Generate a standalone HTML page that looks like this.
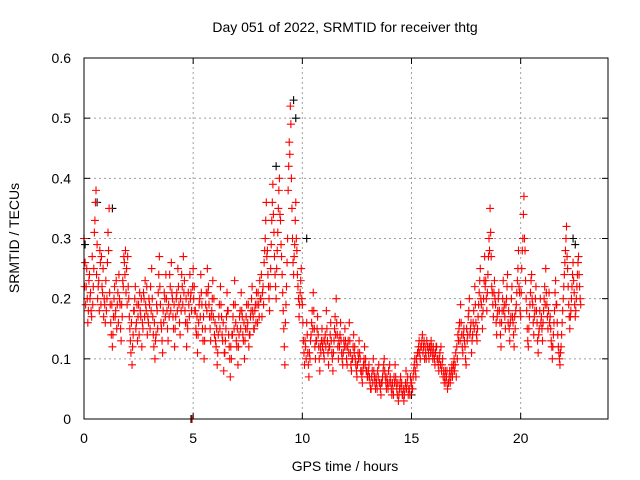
<!DOCTYPE html>
<html><head><meta charset="utf-8"><style>
html,body{margin:0;padding:0;background:#fff;}
svg{display:block;font-family:"Liberation Sans",sans-serif;}
</style></head><body>
<svg id="chart" width="640" height="480" viewBox="0 0 640 480">
<text x="345" y="32" font-size="14" text-anchor="middle">Day 051 of 2022, SRMTID for receiver thtg</text>
<text transform="translate(19,238) rotate(-90)" font-size="14" text-anchor="middle">SRMTID / TECUs</text>
<text x="345" y="471" font-size="14" text-anchor="middle">GPS time / hours</text>
<g id="grid"></g>
<g id="ticks"></g>
<g id="blackPts"></g>
<g id="redPts"></g>
<rect x="84" y="58" width="524" height="361" fill="none" stroke="#000" stroke-width="1"/>
</svg>
<script>
const xTicks=[0,5,10,15,20];
const yTicks=[0,0.1,0.2,0.3,0.4,0.5,0.6];
const yTickLabels=["0","0.1","0.2","0.3","0.4","0.5","0.6"];
const redStart=0, redStep=0.05;
const redValues=[
0.30,0.26,0.22,0.20,0.18,0.24,0.21,0.17,0.19,0.25,0.33,0.38,0.29,0.22,0.18,0.26,0.27,0.21,0.17,0.19,
0.23,0.20,0.31,0.35,0.19,0.14,0.12,0.17,0.22,0.18,0.15,0.21,0.24,0.19,0.13,0.17,0.22,0.26,0.28,0.25,
0.27,0.20,0.15,0.11,0.09,0.14,0.18,0.22,0.16,0.13,0.19,0.21,0.17,0.12,0.15,0.20,0.23,0.18,0.14,0.16,
0.19,0.22,0.25,0.17,0.12,0.10,0.14,0.18,0.21,0.27,0.19,0.15,0.11,0.16,0.20,0.24,0.18,0.13,0.17,0.22,
0.26,0.20,0.15,0.12,0.17,0.21,0.25,0.19,0.14,0.18,0.22,0.27,0.23,0.16,0.12,0.15,0.19,0.24,0.21,0.00,
0.25,0.22,0.18,0.14,0.11,0.16,0.20,0.24,0.19,0.13,0.10,0.15,0.21,0.25,0.22,0.17,0.13,0.18,0.23,0.20,
0.16,0.12,0.09,0.14,0.19,0.22,0.17,0.13,0.08,0.11,0.15,0.21,0.18,0.12,0.07,0.10,0.14,0.19,0.23,0.16,
0.12,0.09,0.14,0.18,0.21,0.17,0.13,0.10,0.15,0.19,0.16,0.12,0.14,0.18,0.22,0.17,0.15,0.19,0.21,0.16,
0.19,0.23,0.20,0.17,0.22,0.26,0.30,0.36,0.28,0.22,0.18,0.25,0.33,0.39,0.31,0.24,0.20,0.28,0.35,0.40,
0.33,0.27,0.21,0.15,0.09,0.19,0.26,0.38,0.46,0.52,0.40,0.30,0.24,0.29,0.36,0.28,0.22,0.17,0.21,0.25,
0.19,0.13,0.09,0.12,0.16,0.11,0.07,0.10,0.14,0.18,0.21,0.15,0.10,0.13,0.17,0.12,0.08,0.11,0.15,0.13,
0.10,0.14,0.18,0.13,0.09,0.12,0.16,0.11,0.08,0.13,0.17,0.20,0.14,0.10,0.12,0.16,0.11,0.09,0.13,0.15,
0.12,0.09,0.13,0.16,0.11,0.08,0.10,0.14,0.12,0.09,0.07,0.11,0.13,0.10,0.08,0.06,0.09,0.12,0.10,0.08,
0.07,0.09,0.06,0.05,0.08,0.10,0.07,0.05,0.06,0.08,0.09,0.06,0.04,0.06,0.08,0.10,0.07,0.05,0.06,0.08,
0.09,0.06,0.04,0.05,0.07,0.09,0.06,0.04,0.03,0.05,0.07,0.06,0.04,0.03,0.05,0.08,0.06,0.04,0.05,0.07,
0.06,0.05,0.08,0.10,0.07,0.09,0.11,0.13,0.10,0.12,0.14,0.12,0.10,0.11,0.13,0.12,0.10,0.12,0.13,0.11,
0.12,0.10,0.11,0.12,0.10,0.08,0.11,0.12,0.09,0.07,0.06,0.08,0.07,0.05,0.06,0.08,0.07,0.09,0.08,0.10,
0.09,0.07,0.10,0.13,0.16,0.19,0.14,0.11,0.15,0.12,0.09,0.13,0.17,0.20,0.15,0.11,0.14,0.18,0.22,0.16,
0.13,0.17,0.21,0.25,0.19,0.15,0.20,0.27,0.23,0.18,0.24,0.30,0.35,0.27,0.21,0.17,0.23,0.19,0.14,0.18,
0.21,0.16,0.12,0.18,0.23,0.19,0.15,0.20,0.24,0.18,0.13,0.17,0.22,0.16,0.12,0.15,0.19,0.23,0.28,0.21,
0.17,0.25,0.30,0.37,0.28,0.20,0.15,0.12,0.17,0.21,0.24,0.19,0.14,0.18,0.22,0.16,0.11,0.15,0.20,0.17,
0.13,0.18,0.22,0.25,0.19,0.15,0.21,0.17,0.13,0.10,0.14,0.18,0.23,0.19,0.14,0.11,0.09,0.12,0.16,0.20,
0.24,0.28,0.32,0.25,0.19,0.15,0.18,0.22,0.26,0.21,0.17,0.20,0.24,0.27,0.22,0.19
];
const red2Start=0.025, red2Step=0.05;
const redValues2=[
0.22,0.19,0.25,0.16,0.23,0.20,0.18,0.27,0.22,0.31,0.36,0.24,0.20,0.23,0.28,0.19,0.22,0.25,0.20,0.16,
0.18,0.26,0.28,0.21,0.16,0.19,0.14,0.20,0.17,0.23,0.19,0.16,0.20,0.15,0.19,0.23,0.27,0.24,0.21,0.19,
0.22,0.17,0.13,0.16,0.12,0.18,0.20,0.15,0.19,0.17,0.14,0.18,0.20,0.16,0.21,0.17,0.19,0.22,0.17,0.20,
0.15,0.18,0.20,0.14,0.16,0.13,0.19,0.15,0.24,0.22,0.16,0.13,0.18,0.21,0.17,0.20,0.15,0.19,0.24,0.18,
0.21,0.17,0.19,0.15,0.20,0.18,0.22,0.16,0.20,0.24,0.19,0.21,0.18,0.20,0.16,0.21,0.17,0.20,0.18,0.22,
0.20,0.18,0.15,0.17,0.14,0.19,0.17,0.21,0.15,0.17,0.13,0.19,0.18,0.21,0.19,0.15,0.17,0.20,0.17,0.14,
0.13,0.15,0.11,0.17,0.15,0.19,0.14,0.16,0.11,0.13,0.17,0.18,0.14,0.10,0.12,0.14,0.17,0.15,0.19,0.13,
0.15,0.12,0.17,0.15,0.18,0.14,0.16,0.13,0.17,0.15,0.19,0.14,0.17,0.20,0.18,0.15,0.18,0.16,0.19,0.21,
0.17,0.20,0.24,0.21,0.19,0.28,0.33,0.27,0.24,0.20,0.22,0.29,0.36,0.34,0.27,0.22,0.25,0.31,0.38,0.34,
0.29,0.24,0.18,0.12,0.16,0.22,0.30,0.42,0.44,0.49,0.35,0.26,0.27,0.33,0.30,0.24,0.20,0.19,0.23,0.20,
0.16,0.11,0.13,0.10,0.14,0.09,0.11,0.13,0.16,0.15,0.18,0.12,0.13,0.15,0.14,0.10,0.12,0.13,0.12,0.11,
0.13,0.12,0.15,0.11,0.12,0.14,0.13,0.10,0.11,0.15,0.14,0.16,0.12,0.13,0.14,0.13,0.10,0.11,0.12,0.13,
0.10,0.12,0.11,0.13,0.09,0.10,0.12,0.11,0.10,0.08,0.09,0.10,0.11,0.08,0.07,0.08,0.10,0.09,0.08,0.07,
0.08,0.07,0.05,0.07,0.06,0.08,0.06,0.07,0.05,0.07,0.06,0.05,0.06,0.07,0.09,0.08,0.06,0.07,0.05,0.06,
0.07,0.05,0.06,0.04,0.06,0.07,0.05,0.06,0.04,0.06,0.05,0.04,0.05,0.04,0.06,0.05,0.07,0.05,0.04,0.06,
0.05,0.07,0.09,0.08,0.10,0.11,0.12,0.11,0.12,0.13,0.11,0.13,0.12,0.10,0.12,0.11,0.12,0.11,0.12,0.10,
0.11,0.09,0.12,0.10,0.09,0.10,0.09,0.08,0.10,0.08,0.07,0.06,0.08,0.06,0.07,0.06,0.08,0.07,0.09,0.08,
0.11,0.12,0.14,0.15,0.13,0.16,0.12,0.14,0.13,0.10,0.15,0.14,0.18,0.14,0.16,0.13,0.16,0.15,0.19,0.14,
0.15,0.19,0.23,0.20,0.17,0.18,0.23,0.22,0.20,0.21,0.27,0.28,0.31,0.22,0.19,0.21,0.20,0.16,0.17,0.20,
0.18,0.14,0.16,0.20,0.18,0.17,0.19,0.22,0.16,0.15,0.16,0.20,0.17,0.14,0.17,0.18,0.21,0.25,0.22,0.18,
0.21,0.28,0.34,0.30,0.23,0.18,0.13,0.15,0.19,0.23,0.20,0.16,0.17,0.20,0.18,0.13,0.14,0.18,0.16,0.15,
0.16,0.20,0.19,0.21,0.17,0.18,0.16,0.15,0.12,0.12,0.16,0.21,0.19,0.16,0.12,0.10,0.11,0.14,0.18,0.22,
0.26,0.30,0.27,0.22,0.17,0.17,0.20,0.24,0.23,0.19,0.18,0.22,0.26,0.24,0.20
];
const blackTimes=[0.0,0.05,0.6,1.3,4.9,8.8,9.6,9.7,10.2,15.0,22.4,22.5];
const blackValues=[0.30,0.29,0.36,0.35,0.0,0.42,0.53,0.50,0.30,0.04,0.30,0.29];

const X0=84,X1=608,Y0=419,Y1=58,XMAX=24,YMAX=0.6;
const sx=t=>X0+(X1-X0)*t/XMAX;
const sy=v=>Y0-(Y0-Y1)*v/YMAX;
const NS="http://www.w3.org/2000/svg";
const grid=document.getElementById('grid'),ticks=document.getElementById('ticks');
function mk(tag,attrs,parent){const e=document.createElementNS(NS,tag);for(const k in attrs)e.setAttribute(k,attrs[k]);parent.appendChild(e);return e;}
xTicks.forEach(t=>{
  const x=sx(t);
  if(t>0){const g=mk('line',{x1:x,x2:x,y1:Y0,y2:Y1,stroke:'#a0a0a0','stroke-dasharray':'2,3'},grid);
  
  }
  mk('line',{x1:x,x2:x,y1:Y0,y2:Y0-6,stroke:'#000'},ticks);
  mk('line',{x1:x,x2:x,y1:Y1,y2:Y1+6,stroke:'#000'},ticks);
  const l=mk('text',{x:x,y:Y0+24,'font-size':14,'text-anchor':'middle'},ticks);
  l.textContent=t;
  
  
});
yTicks.forEach((v,i)=>{
  const y=sy(v);
  if(v>0&&v<YMAX){const g=mk('line',{x1:X0,x2:X1,y1:y,y2:y,stroke:'#a0a0a0','stroke-dasharray':'2,3'},grid);
  
  }
  mk('line',{x1:X0,x2:X0+6,y1:y,y2:y,stroke:'#000'},ticks);
  mk('line',{x1:X1,x2:X1-6,y1:y,y2:y,stroke:'#000'},ticks);
  const l=mk('text',{x:X0-13,y:y+5,'font-size':14,'text-anchor':'end'},ticks);
  l.textContent=yTickLabels[i];
  
  
});
function cross(x,y,color,parent){
  return mk('path',{d:`M${x-4},${y}h8M${x},${y-4}v8`,stroke:color,'stroke-width':1.1,fill:'none'},parent);
}
const bp=document.getElementById('blackPts');
blackTimes.forEach((t,i)=>{
  const p=cross(sx(t),sy(blackValues[i]),'#000',bp);
  
  
});
const rp=document.getElementById('redPts');
redValues.forEach((v,i)=>{
  const p=cross(sx(redStart+i*redStep),sy(v),'#ff0000',rp);
  
  
});
redValues2.forEach((v,i)=>{
  const p=cross(sx(red2Start+i*red2Step),sy(v),'#ff0000',rp);
  
  
});
</script>
</body></html>
